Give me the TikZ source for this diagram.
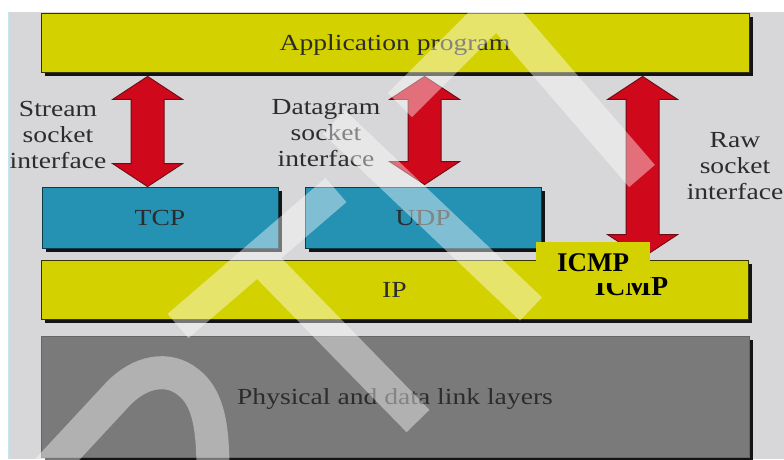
\documentclass[tikz,border=0pt]{standalone}
\usepackage{fontspec}
\setmainfont{Liberation Serif}[FakeStretch=1.2]
\newfontfamily\plainserif{Liberation Serif}
\usetikzlibrary{calc,shadows}

\definecolor{panel}{HTML}{D7D7D9}
\definecolor{layeryellow}{HTML}{D4D100}
\definecolor{layerblue}{HTML}{2592B4}
\definecolor{layergray}{HTML}{7A7A7A}
\definecolor{arrowred}{HTML}{D0081C}
\definecolor{arrowedge}{HTML}{6B0D14}
\definecolor{inkgray}{HTML}{2C2C2C}

% double-headed socket arrow between a top tip and a bottom tip
\newcommand\socketarrow[2]{%
  \filldraw[sockarrow] (#1) -- ++(35,23) -- ++(-18.5,0) -- ($(#2)+(16.5,-23)$)
    -- ++(18.5,0) -- (#2) -- ++(-35,-23) -- ++(18.5,0)
    -- ($(#1)+(-16.5,23)$) -- ++(-18.5,0) -- cycle;}

\begin{document}
\begin{tikzpicture}[x=1pt,y=-1pt,
  layer/.style={rectangle, inner sep=0pt, line width=0.8pt,
    font=\fontsize{23}{26}\selectfont, text=inkgray,
    text height=15pt, text depth=0pt,
    general shadow={fill=black!92, shadow xshift=4pt, shadow yshift=-4pt}},
  yellowlayer/.style={layer, fill=layeryellow, draw=black!75!layeryellow},
  bluelayer/.style={layer, fill=layerblue, draw=black!60!layerblue},
  graylayer/.style={layer, fill=layergray, draw=black!60},
  sidelabel/.style={align=center, inner sep=0pt, text=inkgray,
    font=\fontsize{23}{26}\selectfont},
  sockarrow/.style={fill=arrowred, draw=arrowedge, line width=0.9pt, line join=miter},
  overlaystroke/.style={draw=white, line cap=butt, line join=miter}
]
\useasboundingbox (0,0) rectangle (784,459);
\fill[white] (0,0) rectangle (784,459);
\fill[panel] (8,12) rectangle (784,459);
\draw[color=black!20!cyan!25, line width=0.8pt] (8.4,12) -- (8.4,459);

% protocol layers
\node[yellowlayer, minimum width=708pt, minimum height=59pt] (app) at (395,42.5) {Application program};
\node[bluelayer, minimum width=236pt, minimum height=61pt] (tcp) at (160,217.5) {TCP};
\node[bluelayer, minimum width=236pt, minimum height=61pt] (udp) at (423,217.5) {UDP};
\node[yellowlayer, minimum width=707pt, minimum height=59pt] (ip) at (394.5,289.5) {IP};
\node[graylayer, minimum width=708pt, minimum height=121pt] (phy) at (395,396.5) {Physical and data link layers};
\node[anchor=base, inner sep=0pt, text=black, font=\plainserif\bfseries\fontsize{27.5}{30}\selectfont] (icmpip) at (631.5,295.5) {ICMP};

% socket interfaces
\node[sidelabel] (lstream) at (58,135.3) {Stream\\socket\\interface};
\node[sidelabel] (ldgram) at (326,133.3) {Datagram\\socket\\interface};
\node[sidelabel] (lraw) at (735,166.3) {Raw\\socket\\interface};

\coordinate (streamtop) at ($(app.south west)+(107,4)$);
\coordinate (dgramtop) at ($(app.south west)+(384,4)$);
\coordinate (rawtop) at ($(app.south west)+(602,4)$);
\socketarrow{streamtop}{$(tcp.north west)+(106,0)$}
\socketarrow{dgramtop}{$(udp.north west)+(120,-2)$}
\socketarrow{rawtop}{$(ip.north west)+(602,-2)$}

% translucent overlay strokes
\begin{scope}[transparency group, opacity=0.42]
  \draw[overlaystroke, line width=34pt] (400,105) -- (497,8) -- (642,176);
  \draw[overlaystroke, line width=32pt] (334,122) -- (531,309);
  \draw[overlaystroke, line width=32pt] (178,326) -- (336,190);
  \draw[overlaystroke, line width=32pt] (258,257) -- (418,421);
  \draw[overlaystroke, line width=33pt] (40,478) -- (118,394)
    .. controls (140,371) and (168,366) .. (188,382)
    .. controls (206,396) and (213,420) .. (213,470);
\end{scope}

% ICMP label patch
\node[fill=layeryellow, minimum width=114pt, minimum height=41pt, inner sep=0pt,
  text height=18pt, text depth=0pt, text=black,
  font=\plainserif\bfseries\fontsize{27}{30}\selectfont] (icmp) at (593,262.5) {ICMP};
\end{tikzpicture}
\end{document}
